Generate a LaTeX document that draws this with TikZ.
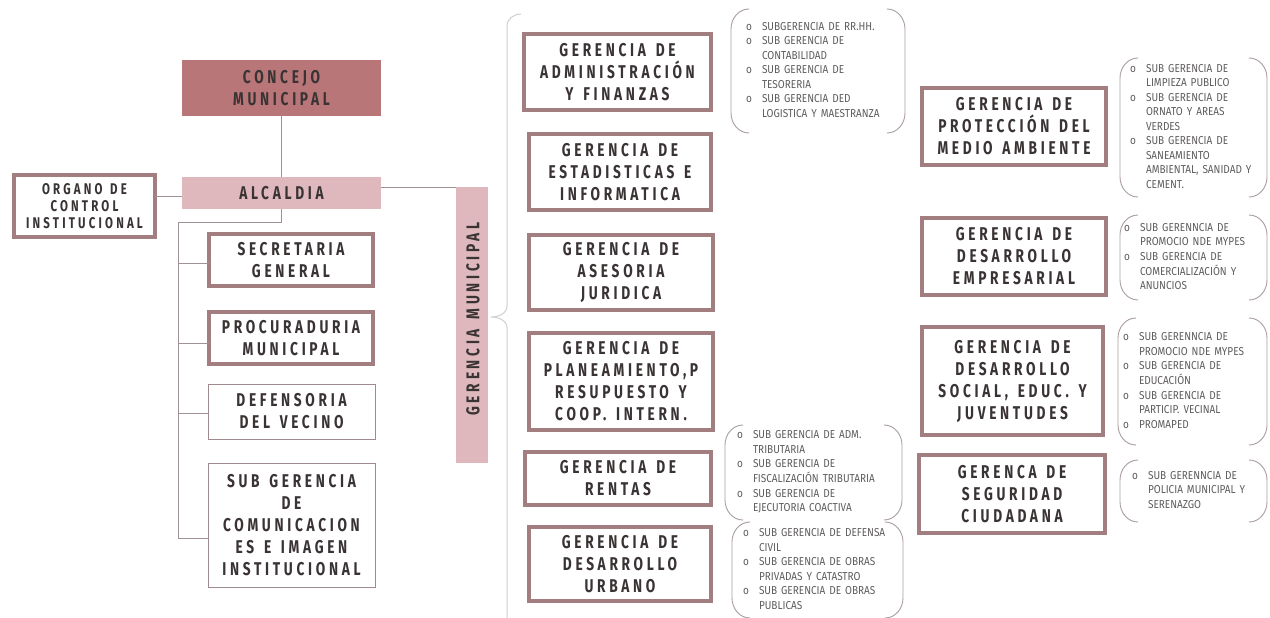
\documentclass[tikz,border=0pt]{standalone}
\usepackage{fontspec}
\setmainfont{Fira Sans}
\newfontfamily\boxfont[FakeStretch=0.74,LetterSpace=20,WordSpace=1.4]{Fira Sans}
\newfontfamily\orgfont[FakeStretch=0.74,LetterSpace=20.5,WordSpace=1.3]{Fira Sans}
\newfontfamily\subfont[FakeStretch=0.87,WordSpace=1.5]{Fira Sans}
\usetikzlibrary{calc}
\definecolor{concejo}{RGB}{185,118,121}
\definecolor{alcal}{RGB}{222,184,188}
\definecolor{thickb}{RGB}{162,126,129}
\definecolor{thinb}{RGB}{160,140,142}
\definecolor{linc}{RGB}{160,146,148}
\definecolor{bracec}{RGB}{208,206,206}
\definecolor{brkc}{RGB}{170,158,159}
\definecolor{txt}{RGB}{58,51,52}
\definecolor{subtxt}{RGB}{95,92,92}
\tikzset{
  bx/.style={draw=thickb, line width=4pt, align=center, text=txt, inner sep=0pt, outer sep=0pt,
    font=\boxfont\bfseries\fontsize{18.5}{22}\selectfont},
  thinbx/.style={draw=thinb, line width=1pt, align=center, text=txt, inner sep=0pt, outer sep=0pt,
    font=\boxfont\bfseries\fontsize{18.5}{22}\selectfont},
  fillbx/.style={draw=none, align=center, text=txt, inner sep=0pt, outer sep=0pt,
    font=\boxfont\bfseries\fontsize{18.5}{22}\selectfont},
  conn/.style={draw=linc, line width=0.8pt},
  bracel/.style={draw=bracec, line width=1pt},
  brkline/.style={draw=brkc, line width=0.9pt},
  brkbox/.style={draw=none, inner sep=0pt, outer sep=0pt},
  subtext/.style={anchor=west, inner sep=0pt, text=subtxt, align=left,
    font=\subfont\fontsize{11.5}{14.5}\selectfont},
}
\newcommand\subitems[1]{\begin{tabular}{@{}l@{\hspace{10pt}}l@{}}#1\end{tabular}}
\newcommand\parenbox[1]{%
  \draw[brkline] ([xshift=18pt]#1.north west) to[out=180,in=90] ([yshift=-20pt]#1.north west)
    -- ([yshift=20pt]#1.south west) to[out=-90,in=180] ([xshift=18pt]#1.south west);
  \draw[brkline] ([xshift=-18pt]#1.north east) to[out=0,in=90] ([yshift=-20pt]#1.north east)
    -- ([yshift=20pt]#1.south east) to[out=-90,in=0] ([xshift=-18pt]#1.south east);
}
\begin{document}
\begin{tikzpicture}[x=1pt,y=-1pt]
\fill[white] (0,0) rectangle (1270,618);
\useasboundingbox (0,0) rectangle (1270,618);

% left column
\node[fillbx, fill=concejo, minimum width=199pt, minimum height=56pt] (con) at (281.5,88) {CONCEJO\\MUNICIPAL};
\node[fillbx, fill=alcal, minimum width=199pt, minimum height=32pt] (alc) at (281.5,193) {ALCALDIA};
\node[bx, minimum width=141pt, minimum height=62pt, font=\orgfont\bfseries\fontsize{15.5}{17}\selectfont] (org) at (84.5,206) {ORGANO DE\\CONTROL\\INSTITUCIONAL};
\node[bx, minimum width=164pt, minimum height=52pt] (sec) at (291,260) {SECRETARIA\\GENERAL};
\node[bx, minimum width=164pt, minimum height=52pt] (pro) at (291,338) {PROCURADURIA\\MUNICIPAL};
\node[thinbx, minimum width=167pt, minimum height=55pt] (def) at (291.5,411.5) {DEFENSORIA\\DEL VECINO};
\node[thinbx, minimum width=167pt, minimum height=124pt] (com) at (291.5,525) {SUB GERENCIA\\DE\\COMUNICACION\\ES E IMAGEN\\INSTITUCIONAL};

% gerencia municipal
\node[fillbx, fill=alcal, minimum width=32pt, minimum height=276pt] (gm) at (472,325) {};
\node[fillbx, rotate=90] (gmt) at (473,319) {GERENCIA MUNICIPAL};

% connectors
\draw[conn] (con.south) -- (alc.north);
\draw[conn] (org.east |- 0,196) -- (alc.west |- 0,196);
\draw[conn] (alc.east |- gm.north west) -- (gm.north west);
\coordinate (tr) at (178,222);
\draw[conn] (alc.south) |- (tr) -- (178,538);
\draw[conn] (tr) |- ($(sec.west)+(0,3)$);
\draw[conn] (tr) |- ($(pro.west)+(0,5)$);
\draw[conn] (tr) |- ($(def.west)+(0,2)$);
\draw[conn] (tr) |- ($(com.west)+(0,13)$);

% brace
\coordinate (tip) at (491,317);
\draw[bracel] (521,14) to[out=180,in=90] (507,26) -- (507,306) to[out=-90,in=0] (tip)
  to[out=0,in=90] (507,328) -- (507,618);

% gerencias (middle)
\node[bx, minimum width=187pt, minimum height=76pt] (g1) at (617.5,72) {GERENCIA DE\\ADMINISTRACIÓN\\Y FINANZAS};
\node[bx, minimum width=182pt, minimum height=76pt] (g2) at (620,172) {GERENCIA DE\\ESTADISTICAS E\\INFORMATICA};
\node[bx, minimum width=184pt, minimum height=75pt] (g3) at (621,272.5) {GERENCIA DE\\ASESORIA\\JURIDICA};
\node[bx, minimum width=184pt, minimum height=97pt] (g4) at (621,381.5) {GERENCIA DE\\PLANEAMIENTO,P\\RESUPUESTO Y\\COOP. INTERN.};
\node[bx, minimum width=186pt, minimum height=53pt] (g5) at (618,478.5) {GERENCIA DE\\RENTAS};
\node[bx, minimum width=182pt, minimum height=74pt] (g6) at (620,564) {GERENCIA DE\\DESARROLLO\\URBANO};

% gerencias (right)
\node[bx, minimum width=184pt, minimum height=77pt] (r1) at (1014,126.5) {GERENCIA DE\\PROTECCIÓN DEL\\MEDIO AMBIENTE};
\node[bx, minimum width=184pt, minimum height=77pt] (r2) at (1014,256.5) {GERENCIA DE\\DESARROLLO\\EMPRESARIAL};
\node[bx, minimum width=181pt, minimum height=108pt] (r3) at (1012.5,381) {GERENCIA DE\\DESARROLLO\\SOCIAL, EDUC. Y\\JUVENTUDES};
\node[bx, minimum width=186pt, minimum height=78pt] (r4) at (1012,494) {GERENCA DE\\SEGURIDAD\\CIUDADANA};

% sub-gerencia lists
\node[brkbox, minimum width=174pt, minimum height=124pt] (s1) at (818,71) {};
\node[subtext] (s1t) at ([xshift=15pt]s1.west) {\subitems{
 o & SUBGERENCIA  DE  RR.HH.\\
 o & SUB GERENCIA  DE\\
   & CONTABILIDAD\\
 o & SUB GERENCIA  DE\\
   & TESORERIA\\
 o & SUB GERENCIA  DED\\
   & LOGISTICA  Y MAESTRANZA}};
\parenbox{s1}

\node[brkbox, minimum width=177pt, minimum height=95pt] (s2) at (813.5,472.5) {};
\node[subtext] (s2t) at ([xshift=12pt]s2.west) {\subitems{
 o & SUB GERENCIA  DE  ADM.\\
   & TRIBUTARIA\\
 o & SUB GERENCIA  DE\\
   & FISCALIZACIÓN  TRIBUTARIA\\
 o & SUB GERENCIA  DE\\
   & EJECUTORIA  COACTIVA}};
\parenbox{s2}

\node[brkbox, minimum width=171pt, minimum height=96pt] (s3) at (817.5,570) {};
\node[subtext] (s3t) at ([xshift=11pt]s3.west) {\subitems{
 o & SUB GERENCIA  DE  DEFENSA\\
   & CIVIL\\
 o & SUB GERENCIA  DE  OBRAS\\
   & PRIVADAS  Y CATASTRO\\
 o & SUB GERENCIA  DE  OBRAS\\
   & PUBLICAS}};
\parenbox{s3}

\node[brkbox, minimum width=147pt, minimum height=139pt] (s4) at (1193.5,127.5) {};
\node[subtext] (s4t) at ([xshift=10pt]s4.west) {\subitems{
 o & SUB GERENCIA  DE\\
   & LIMPIEZA  PUBLICO\\
 o & SUB GERENCIA  DE\\
   & ORNATO  Y  AREAS\\
   & VERDES\\
 o & SUB GERENCIA  DE\\
   & SANEAMIENTO\\
   & AMBIENTAL,  SANIDAD  Y\\
   & CEMENT.}};
\parenbox{s4}

\node[brkbox, minimum width=147pt, minimum height=85pt] (s5) at (1193.5,257.5) {};
\node[subtext] (s5t) at ([xshift=4pt]s5.west) {\subitems{
 o & SUB GERENNCIA  DE\\
   & PROMOCIO  NDE  MYPES\\
 o & SUB GERENCIA  DE\\
   & COMERCIALIZACIÓN  Y\\
   & ANUNCIOS}};
\parenbox{s5}

\node[brkbox, minimum width=149pt, minimum height=127pt] (s6) at (1192.5,381.5) {};
\node[subtext] (s6t) at ([xshift=5pt]s6.west) {\subitems{
 o & SUB GERENNCIA  DE\\
   & PROMOCIO  NDE  MYPES\\
 o & SUB GERENCIA  DE\\
   & EDUCACIÓN\\
 o & SUB GERENCIA  DE\\
   & PARTICIP.  VECINAL\\
 o & PROMAPED}};
\parenbox{s6}

\node[brkbox, minimum width=147pt, minimum height=62pt] (s7) at (1193.5,491) {};
\node[subtext] (s7t) at ([xshift=12pt]s7.west) {\subitems{
 o & SUB GERENNCIA  DE\\
   & POLICIA  MUNICIPAL  Y\\
   & SERENAZGO}};
\parenbox{s7}
\end{tikzpicture}
\end{document}
